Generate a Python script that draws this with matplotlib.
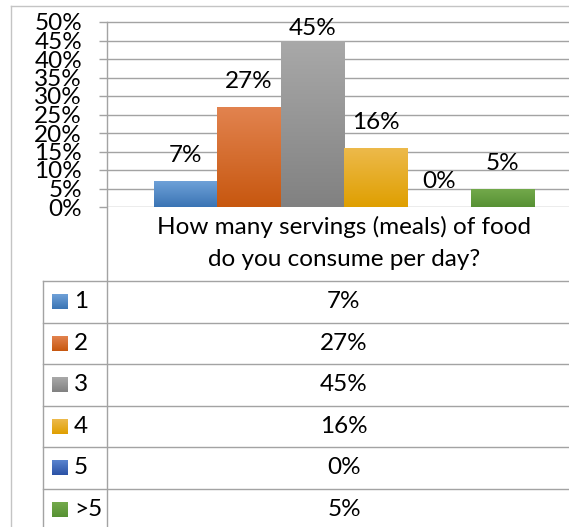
import numpy as np
import matplotlib
matplotlib.use('Agg')
import matplotlib.pyplot as plt
import matplotlib.transforms as mtransforms
from matplotlib.colors import LinearSegmentedColormap

# data
categories = ['1', '2', '3', '4', '5', '>5']
shares = [0.07, 0.27, 0.45, 0.16, 0.00, 0.05]
question = 'How many servings (meals) of food\ndo you consume per day?'
yticks = [0.00, 0.05, 0.10, 0.15, 0.20, 0.25, 0.30, 0.35, 0.40, 0.45, 0.50]

# gradient colours per series (top, bottom)
top_colors = ['#6fa1d8', '#e2834f', '#a9a9a9', '#edba4c', '#5a84cf', '#74aa4c']
bottom_colors = ['#3a74b4', '#c7570f', '#818181', '#df9f00', '#2b52a5', '#579134']

plt.rcParams['font.family'] = ['Lato', 'DejaVu Sans']
fs = 17.5
grid_col = '#a3a3a3'

W, H = 569, 527
fig = plt.figure(figsize=(W / 100, H / 100), dpi=100)


def box(x0, y0, x1, y1):
    return [x0 / W, 1 - y1 / H, (x1 - x0) / W, (y1 - y0) / H]


# background layer in pixel units, for the frame and the data table
bg = fig.add_axes([0, 0, 1, 1], zorder=0)
bg.set_xlim(0, W)
bg.set_ylim(H, 0)
bg.axis('off')

# chart
top_px, zero_px = 22, 207
unit = (zero_px - top_px) / 0.5
ax = fig.add_axes(box(107, 14, W, zero_px), zorder=1)
ax.patch.set_alpha(0)
n = len(categories)
x = np.arange(n)
bar_px = 63.33
xlim = (-0.5 - (154 - 107) / bar_px, -0.5 + (W - 154) / bar_px)
ylim = (0, 0.5 + (top_px - 14) / unit)

grad = np.linspace(0, 1, 256).reshape(-1, 1)
bars = ax.bar(x, shares, width=1.0, color='none', linewidth=0, zorder=3)
for i, (b, v) in enumerate(zip(bars, shares)):
    if v <= 0:
        continue
    cmap = LinearSegmentedColormap.from_list('g%d' % i, [bottom_colors[i], top_colors[i]])
    im = ax.imshow(grad, cmap=cmap, origin='lower', aspect='auto',
                   extent=(i - 0.5, i + 0.5, 0, v), zorder=3)
    im.set_clip_path(b)
ax.set_xlim(*xlim)
ax.set_ylim(*ylim)

# value labels above bars
for i, v in enumerate(shares):
    ax.text(i, min(v + 19 / unit, (zero_px - 35) / unit), '%d%%' % round(v * 100),
            ha='center', va='baseline', fontsize=fs, color='black', zorder=4, clip_on=False)

ax.set_yticks(yticks)
ax.set_yticklabels(['%d%%' % round(t * 100) for t in yticks])
ax.tick_params(axis='y', length=8 * 72 / 100, width=1.0, color=grid_col,
               pad=17 * 72 / 100, labelsize=fs, labelcolor='black')
ax.set_xticks([])
ax.yaxis.grid(True, color=grid_col, linewidth=1.0, zorder=1)
ax.set_axisbelow(True)
for s in ax.spines.values():
    s.set_visible(False)

# frame of the chart area
bg.plot([11, 11], [6, H], color='#c4c4c4', lw=1.0)
bg.plot([11, W], [6, 6], color='#c4c4c4', lw=1.0)

# vertical axis line, running down into the table
bg.plot([107, 107], [top_px, H], color=grid_col, lw=1.0)

# category header, centred on the bar group
blend = mtransforms.blended_transform_factory(ax.transData, bg.transData)
center = x.mean()
head_lines = question.split('\n')
bg.text(center, 227, head_lines[0], transform=blend, ha='center', va='center',
        fontsize=fs, color='black')
bg.text(center, 260, head_lines[1], transform=blend, ha='center', va='center',
        fontsize=fs, color='black')

# data table
row_top, row_h = 281, 41.5
bg.plot([43, 43], [row_top, H], color=grid_col, lw=1.0)
for r in range(n):
    y0 = row_top + r * row_h
    bg.plot([43, W], [y0, y0], color=grid_col, lw=1.0)
    yc = y0 + row_h / 2
    cmap = LinearSegmentedColormap.from_list('l%d' % r, [bottom_colors[r], top_colors[r]])
    bg.imshow(grad, cmap=cmap, origin='lower', aspect='auto',
              extent=(52, 68, yc + 7.5, yc - 7.5), zorder=2)
    bg.text(74, yc, categories[r], ha='left', va='center', fontsize=fs, color='black')
    bg.text(center, yc, '%d%%' % round(shares[r] * 100), transform=blend,
            ha='center', va='center', fontsize=fs, color='black')
bg.set_xlim(0, W)
bg.set_ylim(H, 0)

fig.savefig('out.png', dpi=100)
